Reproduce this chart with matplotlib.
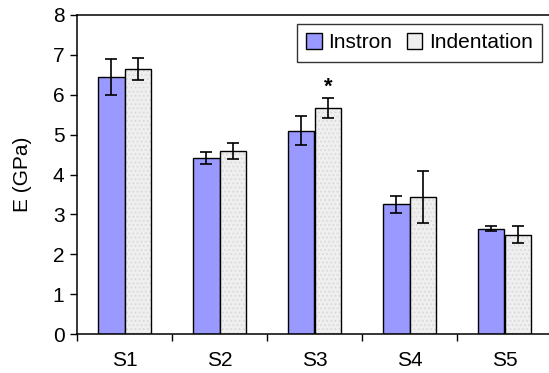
import matplotlib
matplotlib.use('Agg')
import matplotlib.pyplot as plt
import numpy as np
from matplotlib.patches import Patch

plt.rcParams['font.family'] = 'Liberation Sans'
plt.rcParams['font.size'] = 15
plt.rcParams['hatch.linewidth'] = 0.8

samples = ['S1', 'S2', 'S3', 'S4', 'S5']
instron = [6.45, 4.41, 5.10, 3.25, 2.64]
instron_err = [0.45, 0.15, 0.37, 0.21, 0.06]
indent = [6.64, 4.59, 5.66, 3.44, 2.49]
indent_err = [0.27, 0.21, 0.25, 0.66, 0.21]

fig = plt.figure(figsize=(5.49, 3.73), dpi=100)
ax = fig.add_axes([77/549, 1 - 334/373, 475/549, (334 - 15)/373])

x = np.arange(len(samples)) + 0.5
w = 0.284
ekw = dict(ecolor='black', elinewidth=1.2, capsize=4, capthick=1.2)

ax.bar(x - w/2, instron, w, color='#9999ff', edgecolor='black', linewidth=1.0,
       yerr=instron_err, error_kw=ekw, zorder=2)
# speckled fill for the indentation bars
ax.bar(x + w/2, indent, w, color='#efefef', edgecolor='#dadada', hatch='....',
       linewidth=0, zorder=2)
ax.bar(x + w/2, indent, w, fill=False, edgecolor='black', linewidth=1.0,
       yerr=indent_err, error_kw=ekw, zorder=3)

ax.text(x[2] + w/2, indent[2] + indent_err[2] + 0.02, '*', ha='center', va='bottom',
        fontsize=16, fontweight='bold')

ax.set_xlim(0, 5)
ax.set_ylim(0, 8)
ax.set_yticks(range(0, 9))
ax.set_xticks(range(0, 6))
ax.set_xticklabels([])
ax.set_xticks(x, minor=True)
ax.set_xticklabels(samples, minor=True)
ax.tick_params(axis='x', which='major', direction='out', length=5, width=1)
ax.tick_params(axis='x', which='minor', length=0, pad=12)
ax.tick_params(axis='y', direction='out', length=5, width=1, pad=4)
ax.spines['right'].set_visible(False)
for s in ['left', 'bottom', 'top']:
    ax.spines[s].set_linewidth(1.1)
ax.set_ylabel('E (GPa)', labelpad=15)

handles = [Patch(facecolor='#9999ff', edgecolor='black', linewidth=1),
           Patch(facecolor='#efefef', edgecolor='black', linewidth=1)]
leg = ax.legend(handles, ['Instron', 'Indentation'], loc='upper right',
                bbox_to_anchor=(542/549, 1 - 24/373), bbox_transform=fig.transFigure,
                ncol=2, frameon=True, fancybox=False, handlelength=0.75,
                handleheight=0.75, handletextpad=0.3, columnspacing=0.7,
                borderpad=0.45, borderaxespad=0)
leg.get_frame().set_edgecolor('black')
leg.get_frame().set_linewidth(1)

fig.savefig('out.png', dpi=100)
